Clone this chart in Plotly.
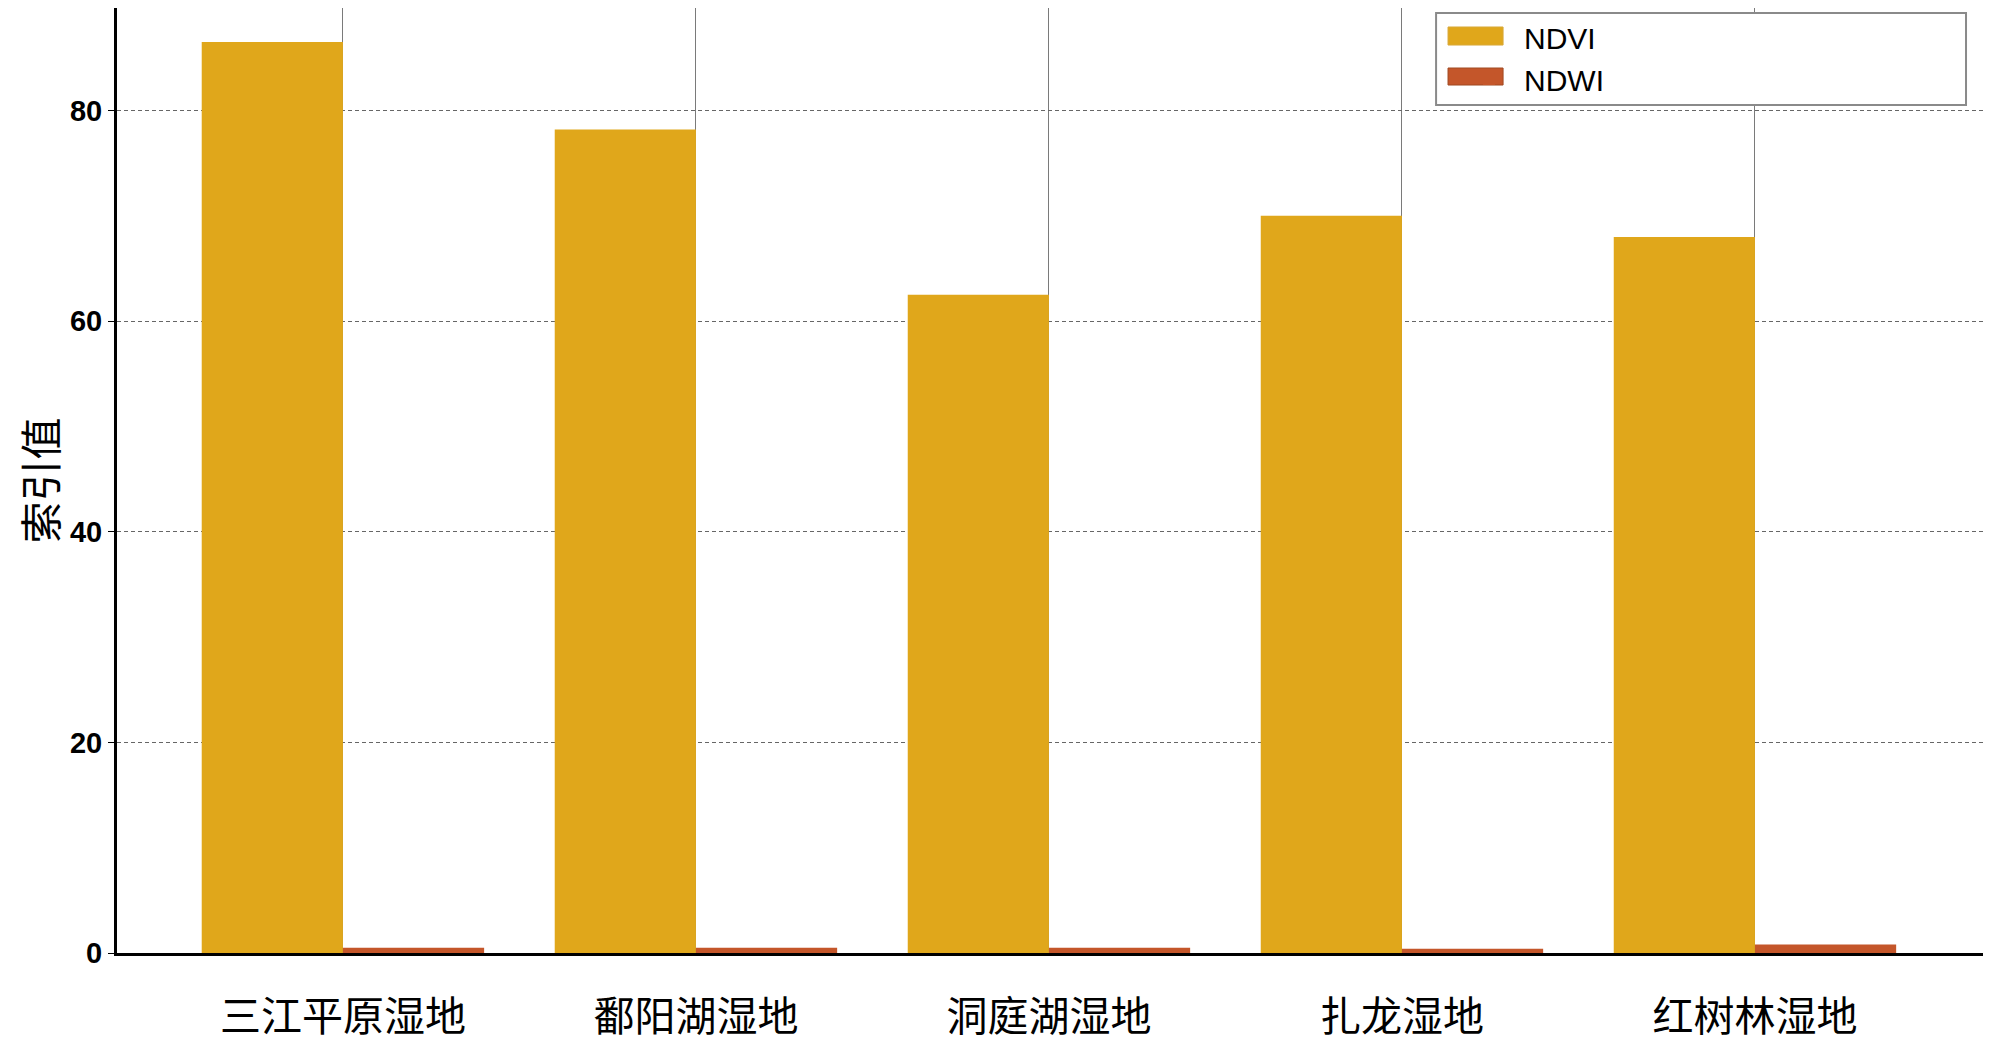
import plotly.graph_objects as go

# Wetland index data
WETLANDS = ["三江平原湿地", "鄱阳湖湿地", "洞庭湖湿地", "扎龙湿地", "红树林湿地"]
NDVI = [86.5, 78.2, 62.5, 70.0, 68.0]
NDWI = [0.5, 0.5, 0.5, 0.4, 0.8]
Y_TICKS = [0, 20, 40, 60, 80]

COLOR_NDVI = "#E0A71B"
COLOR_NDWI = "#C4562A"

fig = go.Figure()

fig.add_trace(go.Bar(
    x=WETLANDS,
    y=NDVI,
    name="NDVI",
    marker_color=COLOR_NDVI,
    marker_line_width=0,
))

fig.add_trace(go.Bar(
    x=WETLANDS,
    y=NDWI,
    name="NDWI",
    marker_color=COLOR_NDWI,
    marker_line_width=0,
))

# legend frame, wider than plotly's own legend box
fig.add_shape(
    type="rect", xref="paper", yref="paper",
    x0=0.7069, x1=0.9909, y0=0.8974, y1=0.9947,
    line=dict(color="#8a8a8a", width=2),
    fillcolor="white", layer="above",
)
# larger legend swatches, sitting under plotly's small ones
fig.add_shape(
    type="rect", xref="paper", yref="paper",
    x0=0.7133, x1=0.7428, y0=0.9608, y1=0.9799,
    line=dict(color="#D9A93A", width=1), fillcolor=COLOR_NDVI, layer="above",
)
fig.add_shape(
    type="rect", xref="paper", yref="paper",
    x0=0.7133, x1=0.7428, y0=0.9185, y1=0.9365,
    line=dict(color="#A04A22", width=1), fillcolor=COLOR_NDWI, layer="above",
)

fig.update_layout(
    barmode="group",
    bargap=0.2,
    bargroupgap=0,
    width=2000,
    height=1056,
    plot_bgcolor="white",
    paper_bgcolor="white",
    margin=dict(l=109, r=25, t=0, b=111),
    font=dict(family="Liberation Sans, Arial, sans-serif", color="black"),
    showlegend=True,
    legend=dict(
        x=0.7165, y=0.9968, xanchor="left", yanchor="top",
        bgcolor="rgba(0,0,0,0)", borderwidth=0,
        font=dict(size=30, family="Liberation Sans, Arial, sans-serif"),
        itemwidth=60, tracegroupgap=0,
    ),
    xaxis=dict(
        range=[-0.64, 4.646],
        showgrid=True, gridcolor="#7a7a7a", gridwidth=1,
        showline=True, linecolor="black", linewidth=3,
        ticks="", tickfont=dict(size=41, family="Noto Sans CJK SC"),
        ticklabelstandoff=26,
    ),
    yaxis=dict(
        range=[0, 89.74],
        tickvals=Y_TICKS,
        showgrid=True, gridcolor="#666666", gridwidth=1, griddash="4px,3px",
        zeroline=False,
        showline=True, linecolor="black", linewidth=3,
        ticks="outside", ticklen=6, tickcolor="black",
        tickfont=dict(size=29, family="Liberation Sans, Arial, sans-serif", weight="bold"),
        title=dict(text="索引值", font=dict(size=42, family="Noto Sans CJK SC"), standoff=32),
    ),
)

fig.write_html("out.html")
